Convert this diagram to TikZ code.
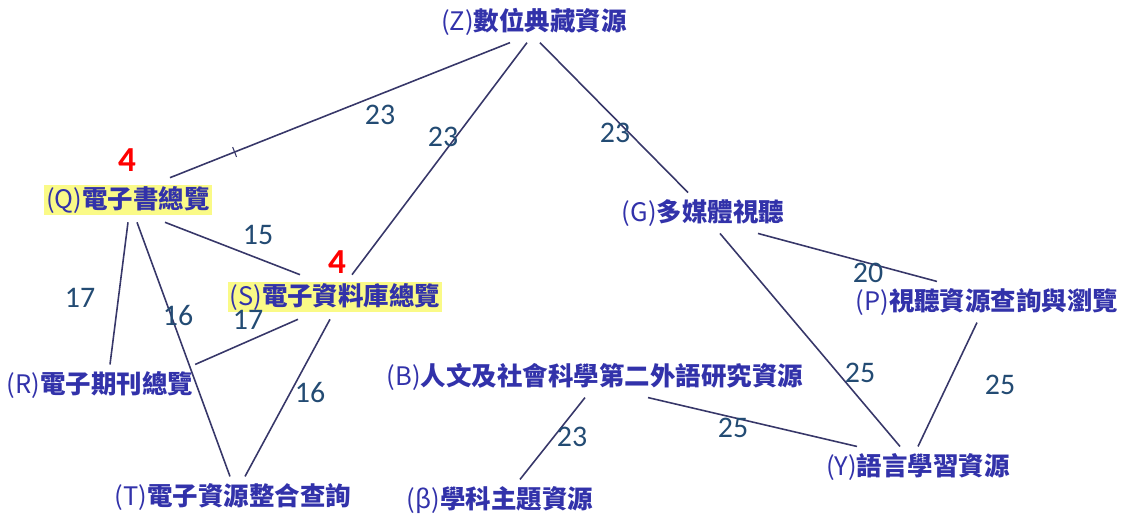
\documentclass[tikz,border=0pt]{standalone}
\usepackage{fontspec}
\newfontfamily\cjk{Noto Sans CJK TC}
\newfontfamily\numfont{Carlito}
\definecolor{restext}{RGB}{50,50,170}
\definecolor{linkline}{RGB}{55,55,105}
\definecolor{weightcol}{RGB}{35,75,115}
\definecolor{markyellow}{RGB}{250,250,135}
\newcommand\pre[1]{{\mdseries(#1)}}

\begin{document}
\begin{tikzpicture}
\tikzset{
    res/.style={font=\cjk\bfseries\fontsize{14.5}{17}\selectfont, text=restext, inner sep=0pt, outer sep=4pt},
    marked/.style={res, fill=markyellow, inner sep=1pt},
    link/.style={draw=linkline, line width=0.9pt},
    weight/.style={font=\numfont\fontsize{17}{20}\selectfont, text=weightcol},
    count/.style={font=\numfont\bfseries\fontsize{20}{22}\selectfont, text=red},
    tickmark/.style={draw=linkline, inner sep=0pt, minimum width=0pt, minimum height=6pt, line width=0.6pt}}

\useasboundingbox (0,0) rectangle (22.74,10.4);

\node[res] (Z) at (10.68,9.96) {\pre{Z}數位典藏資源};
\node[marked] (Q) at (2.56,6.40) {\pre{Q}電子書總覽};
\node[marked] (S) at (6.70,4.46) {\pre{S}電子資料庫總覽};
\node[res] (G) at (14.06,6.14) {\pre{G}多媒體視聽};
\node[res] (P) at (19.74,4.36) {\pre{P}視聽資源查詢與瀏覽};
\node[res] (R) at (2.00,2.70) {\pre{R}電子期刊總覽};
\node[res] (B) at (11.90,2.86) {\pre{B}人文及社會科學第二外語研究資源};
\node[res] (T) at (4.66,0.46) {\pre{T}電子資源整合查詢};
\node[res] (beta) at (10.00,0.40) {\pre{β}學科主題資源};
\node[res] (Y) at (18.36,1.06) {\pre{Y}語言學習資源};

\node[count] (nQ) at (2.54,7.20) {4};
\node[count] (nS) at (6.74,5.16) {4};

\draw[link] ([xshift=-0.48cm]Z.south) -- node[tickmark, pos=0.81, sloped]{} ([xshift=0.84cm]Q.north);
\draw[link] ([xshift=-0.14cm]Z.south) -- ([xshift=0.34cm]S.north);
\draw[link] ([xshift=0.12cm]Z.south) -- ([xshift=-0.30cm]G.north);
\draw[link] ([xshift=0.74cm]Q.south) -- ([xshift=-0.70cm]S.north);
\draw[link] (Q.south) -- ([xshift=0.20cm]R.north);
\draw[link] ([xshift=0.18cm]Q.south) -- ([xshift=-0.06cm]T.north);
\draw[link] ([xshift=-0.74cm]S.south) -- ([xshift=-0.10cm]R.north east);
\draw[link] ([xshift=-0.10cm]S.south) -- ([xshift=0.24cm]T.north);
\draw[link] ([xshift=1.10cm]G.south) -- ([xshift=-1.00cm]P.north);
\draw[link] ([xshift=0.34cm]G.south) -- ([xshift=-0.36cm]Y.north);
\draw[link] ([xshift=-0.20cm]P.south) -- (Y.north);
\draw[link] ([xshift=-0.20cm]B.south) -- ([xshift=0.40cm]beta.north);
\draw[link] ([xshift=1.06cm]B.south) -- ([xshift=-1.22cm]Y.north);

\node[weight] (wZQ) at (7.60,8.10) {23};
\node[weight] (wZS) at (8.86,7.66) {23};
\node[weight] (wZG) at (12.30,7.74) {23};
\node[weight] (wQS) at (5.16,5.70) {15};
\node[weight] (wQR) at (1.60,4.44) {17};
\node[weight] (wQT) at (3.56,4.08) {16};
\node[weight] (wSR) at (4.96,4.00) {17};
\node[weight] (wST) at (6.20,2.54) {16};
\node[weight] (wGP) at (17.36,4.94) {20};
\node[weight] (wGY) at (17.20,2.94) {25};
\node[weight] (wPY) at (20.00,2.70) {25};
\node[weight] (wBb) at (11.44,1.66) {23};
\node[weight] (wBY) at (14.66,1.84) {25};
\end{tikzpicture}
\end{document}
